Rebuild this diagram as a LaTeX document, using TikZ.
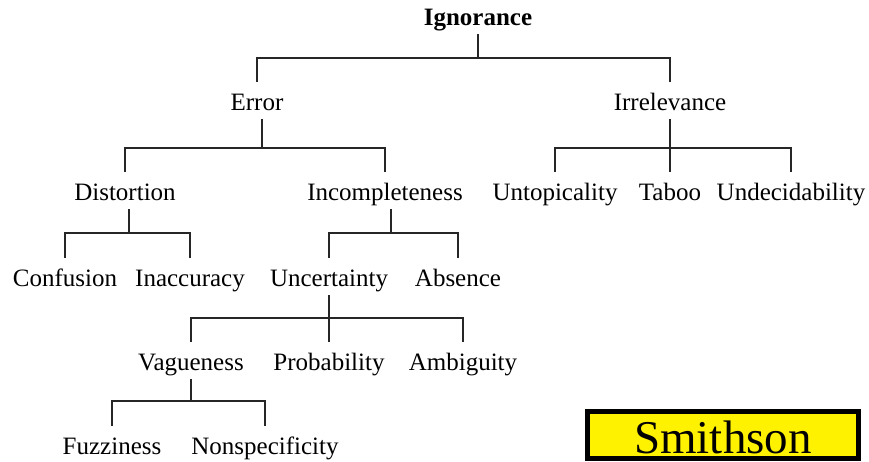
\documentclass[tikz,border=0pt]{standalone}
\usepackage{fontspec}
\setmainfont{Liberation Serif}
\begin{document}
\begin{tikzpicture}[x=1pt,y=-1pt,
  lbl/.style={anchor=base, inner xsep=0pt, inner ysep=3pt, text height=25pt, text depth=6pt,
    font=\fontsize{25}{30}\selectfont},
  conn/.style={line width=1.2pt, draw=black!85}]
\useasboundingbox (0,0) rectangle (869,461);
% nodes
\node[lbl, font=\fontsize{25}{30}\selectfont\bfseries] (ign) at (478,25) {Ignorance};
\node[lbl] (err) at (257,110) {Error};
\node[lbl] (irr) at (670,110) {Irrelevance};
\node[lbl] (dis) at (125,200) {Distortion};
\node[lbl] (inc) at (385,200) {Incompleteness};
\node[lbl] (unt) at (555,200) {Untopicality};
\node[lbl] (tab) at (670,200) {Taboo};
\node[lbl] (und) at (791,200) {Undecidability};
\node[lbl] (con) at (65,286) {Confusion};
\node[lbl] (ina) at (190,286) {Inaccuracy};
\node[lbl] (unc) at (329,286) {Uncertainty};
\node[lbl] (abs) at (458,286) {Absence};
\node[lbl] (vag) at (191,370) {Vagueness};
\node[lbl] (pro) at (329,370) {Probability};
\node[lbl] (amb) at (463,370) {Ambiguity};
\node[lbl] (fuz) at (112,454) {Fuzziness};
\node[lbl] (non) at (265,454) {Nonspecificity};
% junctions
\coordinate (ignJ) at (478,58);
\coordinate (errJ) at (262,148);
\coordinate (irrJ) at (670,148);
\coordinate (disJ) at (129,233);
\coordinate (incJ) at (391,233);
\coordinate (uncJ) at (329,318);
\coordinate (vagJ) at (191,401);
% connectors
\draw[conn] (ign.south -| ignJ) -- (ignJ);
\draw[conn] (err.north) |- (ignJ) -| (irr.north);
\draw[conn] (err.south -| errJ) -- (errJ);
\draw[conn] (dis.north) |- (errJ) -| (inc.north);
\draw[conn] (irr.south -| irrJ) -- (irrJ) -- (tab.north);
\draw[conn] (unt.north) |- (irrJ) -| (und.north);
\draw[conn] (dis.south -| disJ) -- (disJ);
\draw[conn] (con.north) |- (disJ) -| (ina.north);
\draw[conn] (inc.south -| incJ) -- (incJ);
\draw[conn] (unc.north) |- (incJ) -| (abs.north);
\draw[conn] (unc.south -| uncJ) -- (uncJ) -- (pro.north);
\draw[conn] (vag.north) |- (uncJ) -| (amb.north);
\draw[conn] (vag.south -| vagJ) -- (vagJ);
\draw[conn] (fuz.north) |- (vagJ) -| (non.north);
% Smithson box
\node[anchor=base, draw=black, line width=5pt, fill=yellow, inner xsep=0pt, inner ysep=0pt,
  minimum width=271pt, text height=41.5pt, text depth=5.5pt,
  font=\fontsize{47}{50}\selectfont] (smi) at (723,453) {Smithson};
\end{tikzpicture}
\end{document}
